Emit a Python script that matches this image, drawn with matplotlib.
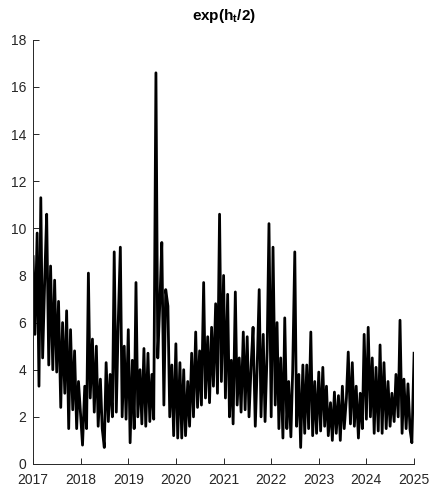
import matplotlib
matplotlib.use('Agg')
import matplotlib.pyplot as plt
import matplotlib.dates as mdates
import pandas as pd
import numpy as np

plt.rcParams['font.family'] = ['Liberation Sans', 'DejaVu Sans']
plt.rcParams['mathtext.fontset'] = 'custom'
plt.rcParams['mathtext.bf'] = 'Liberation Sans:bold'
plt.rcParams['mathtext.rm'] = 'Liberation Sans'

# semi-monthly readings of exp(h_t/2), alternating highs and lows, one list per year
v2017 = [8.8, 5.5, 9.8, 3.3, 11.3, 4.5, 8.0, 10.6, 4.2, 8.4, 4.0, 7.8,
         3.9, 6.9, 2.4, 6.0, 3.0, 6.5, 1.5, 5.7, 2.3, 4.8, 1.5, 3.5]
v2018 = [2.0, 0.8, 3.3, 1.5, 8.1, 2.8, 5.3, 2.2, 5.0, 1.6, 3.6, 1.5,
         0.7, 4.3, 1.8, 3.8, 2.0, 9.0, 2.2, 5.8, 9.2, 2.0, 5.0, 1.9]
v2019 = [5.7, 0.9, 4.4, 1.5, 7.7, 2.0, 4.0, 1.7, 4.9, 1.6, 4.7, 1.8,
         3.8, 1.9, 16.6, 4.5, 7.0, 9.4, 2.5, 7.4, 6.7, 2.0, 4.2, 1.2]
v2020 = [5.1, 1.1, 4.3, 1.1, 4.0, 1.2, 3.5, 1.6, 4.7, 2.0, 5.6, 2.4,
         4.8, 2.5, 7.7, 2.8, 5.4, 2.6, 5.8, 3.3, 6.8, 3.0, 10.6, 3.5]
v2021 = [8.0, 2.8, 7.2, 2.0, 4.4, 1.7, 7.3, 2.5, 4.5, 2.2, 5.6, 2.3,
         5.4, 2.0, 4.3, 5.8, 1.6, 4.0, 7.4, 2.0, 5.5, 1.8, 4.8, 10.2]
v2022 = [2.0, 9.2, 2.5, 6.0, 1.5, 4.5, 1.1, 6.2, 1.5, 3.5, 1.15, 4.0,
         9.0, 1.6, 3.8, 0.7, 4.2, 1.3, 4.2, 1.5, 5.6, 1.2, 3.5, 1.3]
v2023 = [3.9, 1.4, 4.1, 1.6, 3.3, 1.2, 2.6, 1.0, 3.05, 1.3, 2.9, 1.0,
         3.3, 1.5, 2.8, 4.75, 1.7, 4.3, 1.6, 3.3, 1.1, 3.0, 1.5, 5.5]
v2024 = [1.9, 5.8, 2.0, 4.5, 1.3, 4.1, 1.4, 5.05, 1.3, 4.3, 1.5, 3.5,
         1.6, 3.0, 1.8, 3.8, 2.0, 6.1, 1.3, 3.6, 1.5, 3.4, 1.45, 0.9]
v_end = [4.7]  # 2025-01-01

years = list(range(2017, 2025))
yearly = [v2017, v2018, v2019, v2020, v2021, v2022, v2023, v2024]

dates = []
values = []
for y, vals in zip(years, yearly):
    dates.extend(pd.date_range(f'{y}-01-01', periods=len(vals), freq='SMS'))
    values.extend(vals)
dates.append(pd.Timestamp('2025-01-01'))
values.extend(v_end)

fig = plt.figure(figsize=(4.30, 4.92), dpi=100)
ax = fig.add_axes([0.077, 0.057, 0.886, 0.862])
ax.plot(dates, values, color='black', linewidth=2.0)

ax.set_xlim(pd.Timestamp('2017-01-01'), pd.Timestamp('2025-01-01'))
ax.set_ylim(0, 18)
ax.set_yticks(np.arange(0, 19, 2))
ax.xaxis.set_major_locator(mdates.YearLocator())
ax.xaxis.set_major_formatter(mdates.DateFormatter('%Y'))

ax.spines['top'].set_visible(False)
ax.spines['right'].set_visible(False)
for s in ['left', 'bottom']:
    ax.spines[s].set_color('#262626')
    ax.spines[s].set_linewidth(0.7)
ax.tick_params(direction='in', length=4, width=0.7, colors='#262626',
               labelsize=10, labelcolor='#262626')
ax.tick_params(axis='x', pad=6.5)
ax.tick_params(axis='y', pad=5)

ax.set_title(r'$\mathbf{exp(h_t/2)}$', fontsize=11, pad=14)

fig.savefig('out.png', dpi=100)
